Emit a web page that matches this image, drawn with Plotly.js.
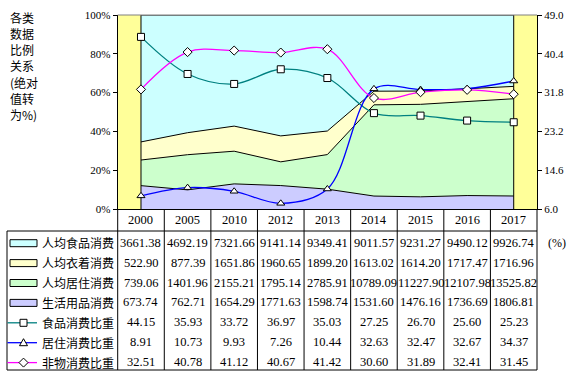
<!DOCTYPE html>
<html>
<head>
<meta charset="utf-8">
<script src="https://cdn.plot.ly/plotly-3.0.1.min.js"></script>
<style>html,body{margin:0;padding:0;background:#fff;}</style>
</head>
<body>
<div id="chart" style="width:576px;height:376px;"></div>
<script>
// ---------- data ----------
const years = ['2000','2005','2010','2012','2013','2014','2015','2016','2017'];
const foodSpend     = [3661.38, 4692.19, 7321.66, 9141.14, 9349.41, 9011.57, 9231.27, 9490.12, 9926.74];
const clothingSpend = [522.90, 877.39, 1651.86, 1960.65, 1899.20, 1613.02, 1614.20, 1717.47, 1716.96];
const housingSpend  = [739.06, 1401.96, 2155.21, 1795.14, 2785.91, 10789.09, 11227.90, 12107.98, 13525.82];
const dailySpend    = [673.74, 762.71, 1654.29, 1771.63, 1598.74, 1531.60, 1476.16, 1736.69, 1806.81];
const foodShare     = [44.15, 35.93, 33.72, 36.97, 35.03, 27.25, 26.70, 25.60, 25.23];
const housingShare  = [8.91, 10.73, 9.93, 7.26, 10.44, 32.63, 32.47, 32.67, 34.37];
const nonMatShare   = [32.51, 40.78, 41.12, 40.67, 41.42, 30.60, 31.89, 32.41, 31.45];
const seriesNames = ['人均食品消费','人均衣着消费','人均居住消费','生活用品消费','食品消费比重','居住消费比重','非物消费比重'];
const leftTicks  = [0, 20, 40, 60, 80, 100];
const leftTickText = ['0%', '20%', '40%', '60%', '80%', '100%'];
const rightTicks = [6.0, 14.6, 23.2, 31.8, 40.4, 49.0];
const yTitleLines = ['各类', '数据', '比例', '关系', '(绝对', '值转', '为%)'];

// ---------- geometry / styles ----------
const W = 576, H = 376;
const PL = 117.7, PR = 537, PT = 15, PB = 209;
const colW = (PR - PL) / years.length;
const TL = 7, headC = 220, headB = 231, rowY0 = 242.7, rowH = 19.9, TB = 370;
const X = px => px / W, Y = py => 1 - py / H;
const colX = i => X(PL + (i + 0.5) * colW);
const serif = 'Liberation Serif, Times New Roman, serif';
const cjk = 'Noto Sans CJK SC, sans-serif';
const areaFill = {food:'#CCFFFF', clothing:'#FFFFCC', housing:'#CCFFCC', daily:'#CCCCFF'};
const lineCol = {food:'#008080', housing:'#0000FF', non:'#FF00FF'};

const areaTrace = (y, name, fill) => ({
  x: years, y: y, name: name, type: 'scatter', mode: 'lines',
  stackgroup: 'one', groupnorm: 'percent', fillcolor: fill,
  line: {color: 'black', width: 1}, hoverinfo: 'skip'
});
const edgeTrace = (cat) => ({
  x: [cat, cat], y: [0, 100], type: 'scatter', mode: 'lines',
  line: {color: 'black', width: 1}, hoverinfo: 'skip'
});
const lineTrace = (y, name, color, symbol) => ({
  x: years, y: y, name: name, type: 'scatter', mode: 'lines+markers', yaxis: 'y2',
  line: {color: color, width: 1.3, shape: 'spline', smoothing: 1},
  marker: {symbol: symbol, size: 7, color: 'white', line: {color: 'black', width: 1}},
  cliponaxis: false, hoverinfo: 'skip'
});

const data = [
  areaTrace(dailySpend, seriesNames[3], areaFill.daily),
  areaTrace(housingSpend, seriesNames[2], areaFill.housing),
  areaTrace(clothingSpend, seriesNames[1], areaFill.clothing),
  areaTrace(foodSpend, seriesNames[0], areaFill.food),
  edgeTrace(years[0]), edgeTrace(years[years.length - 1]),
  lineTrace(foodShare, seriesNames[4], lineCol.food, 'square'),
  lineTrace(housingShare, seriesNames[5], lineCol.housing, 'triangle-up'),
  lineTrace(nonMatShare, seriesNames[6], lineCol.non, 'diamond')
];

// ---------- table ----------
const annotations = [];
const shapes = [];
const tableRows = [foodSpend, clothingSpend, housingSpend, dailySpend, foodShare, housingShare, nonMatShare];
const numFont = {family: serif, size: 12.5, color: 'black'};

years.forEach((yr, i) => {
  annotations.push({x: colX(i), xref: 'paper', y: Y(headC), yref: 'paper', text: yr, showarrow: false,
    xanchor: 'center', yanchor: 'middle', font: numFont});
});
tableRows.forEach((vals, r) => {
  const cy = rowY0 + r * rowH;
  vals.forEach((v, i) => {
    annotations.push({x: colX(i), xref: 'paper', y: Y(cy), yref: 'paper', text: v.toFixed(2), showarrow: false,
      xanchor: 'center', yanchor: 'middle', font: numFont});
  });
  annotations.push({x: X(39.5), xref: 'paper', y: Y(cy), yref: 'paper', text: seriesNames[r], showarrow: false,
    xanchor: 'left', yanchor: 'middle', font: {family: cjk, size: 12, color: 'black'}});
});
annotations.push({x: X(546), xref: 'paper', y: Y(rowY0), yref: 'paper', text: '(%)', showarrow: false,
  xanchor: 'left', yanchor: 'middle', font: {family: serif, size: 12, color: 'black'}});
yTitleLines.forEach((t, k) => {
  annotations.push({x: X(9), xref: 'paper', y: Y(17 + k * 16.3), yref: 'paper', text: t, showarrow: false,
    xanchor: 'left', yanchor: 'middle', align: 'left', borderpad: 0,
    font: {family: cjk, size: 12, color: 'black'}});
});

const ln = (x0, y0, x1, y1, color, w) => ({type: 'line', xref: 'paper', yref: 'paper',
  x0: X(x0), y0: Y(y0), x1: X(x1), y1: Y(y1), line: {color: color || 'black', width: w || 1}, layer: 'above'});
for (let k = 0; k <= years.length; k++) {
  const xx = PL + k * colW;
  shapes.push(ln(xx, PB, xx, TB));
}
shapes.push(ln(TL, headB, PR, headB));
shapes.push(ln(TL, TB, PR, TB));
shapes.push(ln(TL, headB, TL, TB));
shapes.push(ln(PL, PT, PR, PT, '#808080', 1));

// legend keys
const keyFills = [areaFill.food, areaFill.clothing, areaFill.housing, areaFill.daily];
keyFills.forEach((f, r) => {
  const cy = rowY0 + r * rowH + 0.5;
  shapes.push({type: 'rect', xref: 'paper', yref: 'paper', x0: X(10), x1: X(37), y0: Y(cy - 3.5), y1: Y(cy + 3.5),
    fillcolor: f, line: {color: 'black', width: 1}, layer: 'above'});
});
const P = (px, py) => X(px) + ',' + Y(py);
const lineKeys = [[lineCol.food, 'square'], [lineCol.housing, 'triangle'], [lineCol.non, 'diamond']];
lineKeys.forEach((lk, j) => {
  const cy = rowY0 + (4 + j) * rowH + 0.5;
  shapes.push(ln(TL + 0.5, cy, 37, cy, lk[0], 1.3));
  const cx = 23.5;
  let path;
  if (lk[1] === 'square') path = 'M' + P(cx - 3.5, cy - 3.5) + 'L' + P(cx + 3.5, cy - 3.5) + 'L' + P(cx + 3.5, cy + 3.5) + 'L' + P(cx - 3.5, cy + 3.5) + 'Z';
  else if (lk[1] === 'triangle') path = 'M' + P(cx, cy - 4) + 'L' + P(cx + 4, cy + 3) + 'L' + P(cx - 4, cy + 3) + 'Z';
  else path = 'M' + P(cx, cy - 4.5) + 'L' + P(cx + 4.5, cy) + 'L' + P(cx, cy + 4.5) + 'L' + P(cx - 4.5, cy) + 'Z';
  shapes.push({type: 'path', xref: 'paper', yref: 'paper', path: path, fillcolor: 'white',
    line: {color: 'black', width: 1}, layer: 'above'});
});

const layout = {
  width: W, height: H, margin: {l: 0, r: 0, t: 0, b: 0, pad: 0},
  paper_bgcolor: 'white', plot_bgcolor: '#FFFF99', showlegend: false,
  xaxis: {domain: [X(PL), X(PR)], type: 'category', categoryorder: 'array', categoryarray: years,
    range: [-0.5, 8.5], showticklabels: false, ticks: '', showline: true, linecolor: 'black', linewidth: 1,
    showgrid: false, zeroline: false, fixedrange: true},
  yaxis: {domain: [Y(PB), Y(PT)], range: [0, 100], tickmode: 'array', tickvals: leftTicks, ticktext: leftTickText,
    ticks: 'outside', ticklen: 4, tickcolor: 'black', showline: true, linecolor: 'black', linewidth: 1,
    showgrid: false, zeroline: false, tickfont: {family: serif, size: 11, color: 'black'}, fixedrange: true},
  yaxis2: {overlaying: 'y', side: 'right', anchor: 'x', range: [6, 49], tickmode: 'array', tickvals: rightTicks,
    ticktext: rightTicks.map(v => v.toFixed(1)),
    ticks: 'outside', ticklen: 4, tickcolor: 'black', showline: true, linecolor: 'black', linewidth: 1,
    showgrid: false, zeroline: false, tickfont: {family: serif, size: 11, color: 'black'}, fixedrange: true},
  annotations: annotations,
  shapes: shapes
};

Plotly.newPlot('chart', data, layout, {staticPlot: true, displayModeBar: false});
</script>
</body>
</html>
